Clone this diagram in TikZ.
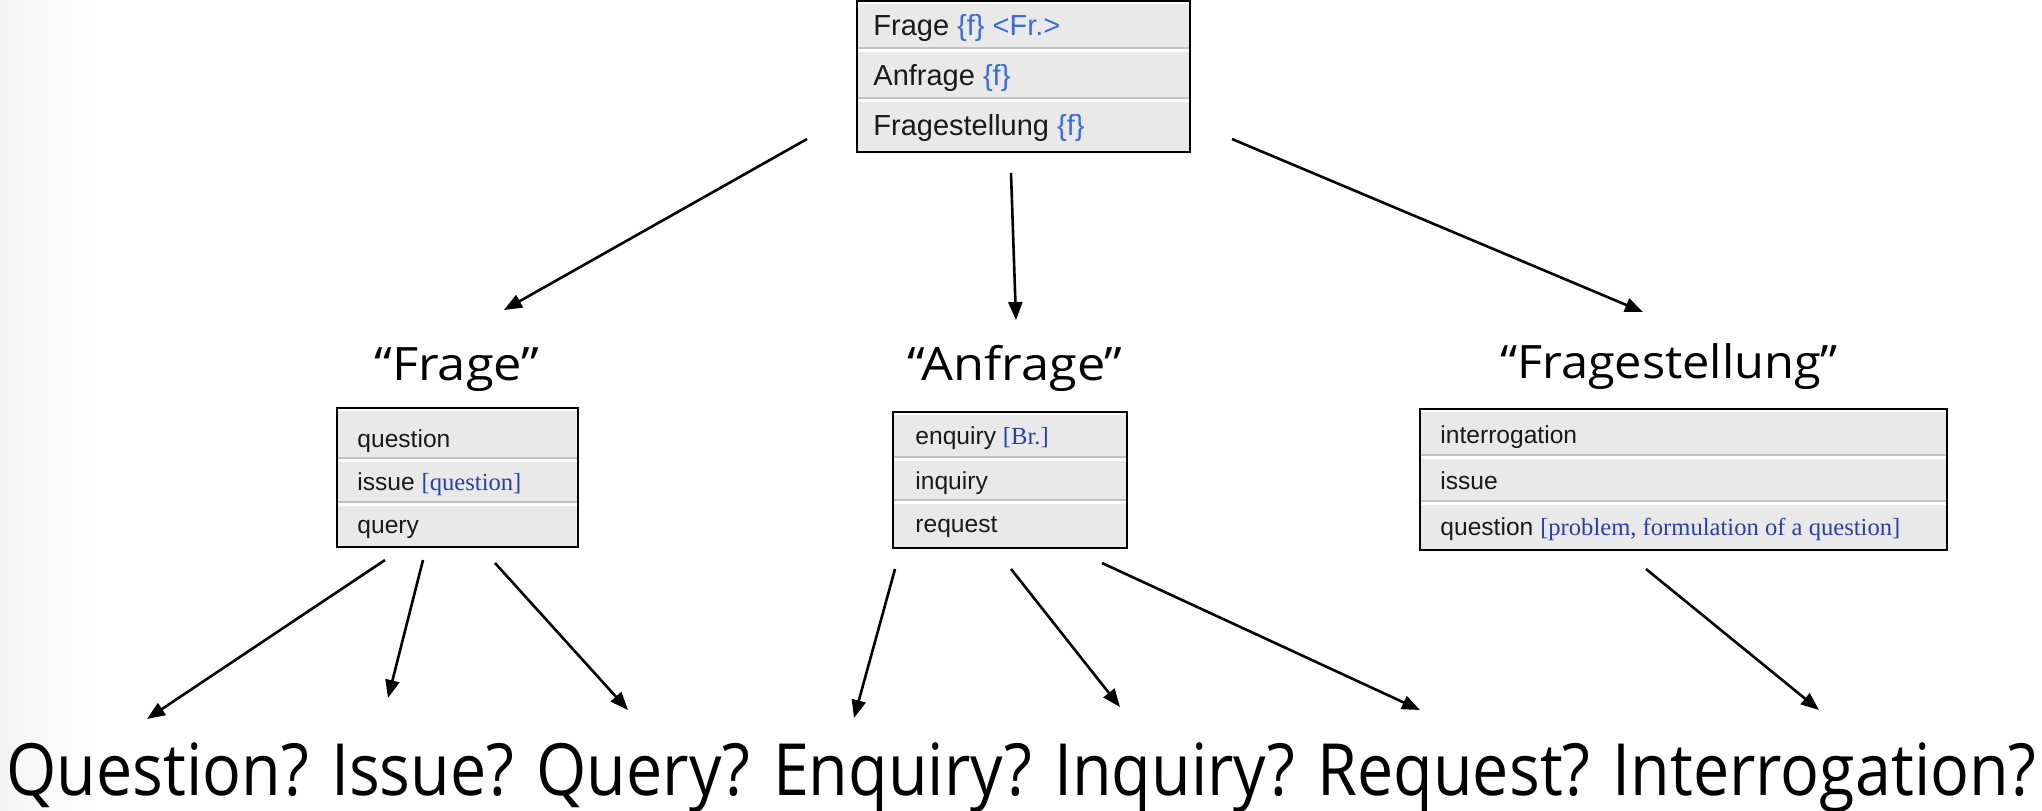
\documentclass[tikz,border=0pt]{standalone}
\usepackage{fontspec}
\usepackage{graphicx}
\setmainfont{Liberation Sans}
\newfontfamily\labelfont{Open Sans}
\newfontfamily\notefont{Liberation Serif}
\usetikzlibrary{arrows.meta,fit}

\definecolor{boxfill}{HTML}{E9E9E9}
\definecolor{rowline}{HTML}{C2C2C2}
\definecolor{gendercol}{HTML}{3D6BD6}
\definecolor{notecol}{HTML}{2B3FA6}
\definecolor{entrytext}{HTML}{1A1A1A}

% grammatical gender / register tags and bracketed notes
\newcommand\gtag[1]{{\color{gendercol}#1}}
\newcommand\bnote[1]{{\notefont\color{notecol}#1}}
% two-tone separator between dictionary rows
\newcommand\rowsep[3]{%
  \draw[rowline,line width=1.1pt] (#1,#3) -- (#2,#3);
  \draw[white,line width=1.1pt] (#1,#3+2.4) -- (#2,#3+2.4);}

\begin{document}
\begin{tikzpicture}[x=0.5pt,y=-0.5pt,
  dictbox/.style={draw=black,line width=1.1pt,fill=boxfill,inner sep=0pt},
  entry/.style={anchor=base west,inner sep=0pt,text=entrytext},
  topentry/.style={entry,font=\fontsize{14.5}{17}\selectfont},
  midentry/.style={entry,font=\fontsize{12.3}{15}\selectfont},
  midlabel/.style={anchor=base,inner sep=0pt,font=\labelfont\fontsize{23}{27}\selectfont},
  conn/.style={line width=1.3pt,-{Triangle[length=9pt,width=7pt]}}]

\useasboundingbox (0,0) rectangle (2042,810);
\shade[left color=black!4,right color=white] (0,0) rectangle (95,810);

% ---- top entry: German headwords
\node[dictbox,fit={(857,1) (1190,152)}] (top) {};
\draw[white,line width=1.1pt] (858,3) -- (1189,3);
\rowsep{858}{1189}{48}
\rowsep{858}{1189}{98}
\node[topentry] (t1) at (873,35) {Frage \gtag{\{f\} <Fr.>}};
\node[topentry] (t2) at (873,85) {Anfrage \gtag{\{f\}}};
\node[topentry] (t3) at (873,135) {Fragestellung \gtag{\{f\}}};

% ---- middle labels
\node[midlabel] (lfrage) at (457,380) {\resizebox{82.5pt}{\height}{“Frage”}};
\node[midlabel] (lanfrage) at (1015,380) {\resizebox{107.5pt}{\height}{“Anfrage”}};
\node[midlabel] (lfrst) at (1669,378) {\resizebox{169pt}{\height}{“Fragestellung”}};

% ---- translations of "Frage"
\node[dictbox,fit={(337,408) (578,547)}] (bfrage) {};
\draw[white,line width=1.1pt] (338,410) -- (577,410);
\rowsep{338}{577}{458}
\rowsep{338}{577}{502}
\node[midentry] at (357,447) {question};
\node[midentry] at (357,490) {issue \bnote{[question]}};
\node[midentry] at (357,533) {query};

% ---- translations of "Anfrage"
\node[dictbox,fit={(893,412) (1127,548)}] (banfrage) {};
\draw[white,line width=1.1pt] (894,414) -- (1126,414);
\rowsep{894}{1126}{457}
\rowsep{894}{1126}{500}
\node[midentry] at (915,444) {enquiry \bnote{[Br.]}};
\node[midentry] at (915,489) {inquiry};
\node[midentry] at (915,532) {request};

% ---- translations of "Fragestellung"
\node[dictbox,fit={(1420,409) (1947,550)}] (bfrst) {};
\draw[white,line width=1.1pt] (1421,411) -- (1946,411);
\rowsep{1421}{1946}{455}
\rowsep{1421}{1946}{501}
\node[midentry] at (1440,443) {interrogation};
\node[midentry] at (1440,489) {issue};
\node[midentry] at (1440,535) {question \bnote{[problem, formulation of a question]}};

% ---- candidate English words
\node[anchor=base,inner sep=0pt] (words) at (1021.5,795)
  {\resizebox{1015pt}{\height}{\labelfont\fontsize{36}{42}\selectfont
   Question? Issue? Query? Enquiry? Inquiry? Request? Interrogation?}};

% ---- connector end points
\coordinate (s1) at (807,139);  \coordinate (e1) at (504,310);
\coordinate (s2) at (1011,173); \coordinate (e2) at (1016,320);
\coordinate (s3) at (1232,139); \coordinate (e3) at (1643,312);
\coordinate (s4) at (385,560);  \coordinate (e4) at (147,719);
\coordinate (s5) at (423,560);  \coordinate (e5) at (388,698);
\coordinate (s6) at (495,563);  \coordinate (e6) at (628,710);
\coordinate (s7) at (895,569);  \coordinate (e7) at (854,718);
\coordinate (s8) at (1011,569); \coordinate (e8) at (1120,707);
\coordinate (s9) at (1102,563); \coordinate (e9) at (1420,710);
\coordinate (s10) at (1646,569); \coordinate (e10) at (1819,710);

\foreach \i in {1,...,10} \draw[conn] (s\i) -- (e\i);
\end{tikzpicture}
\end{document}
